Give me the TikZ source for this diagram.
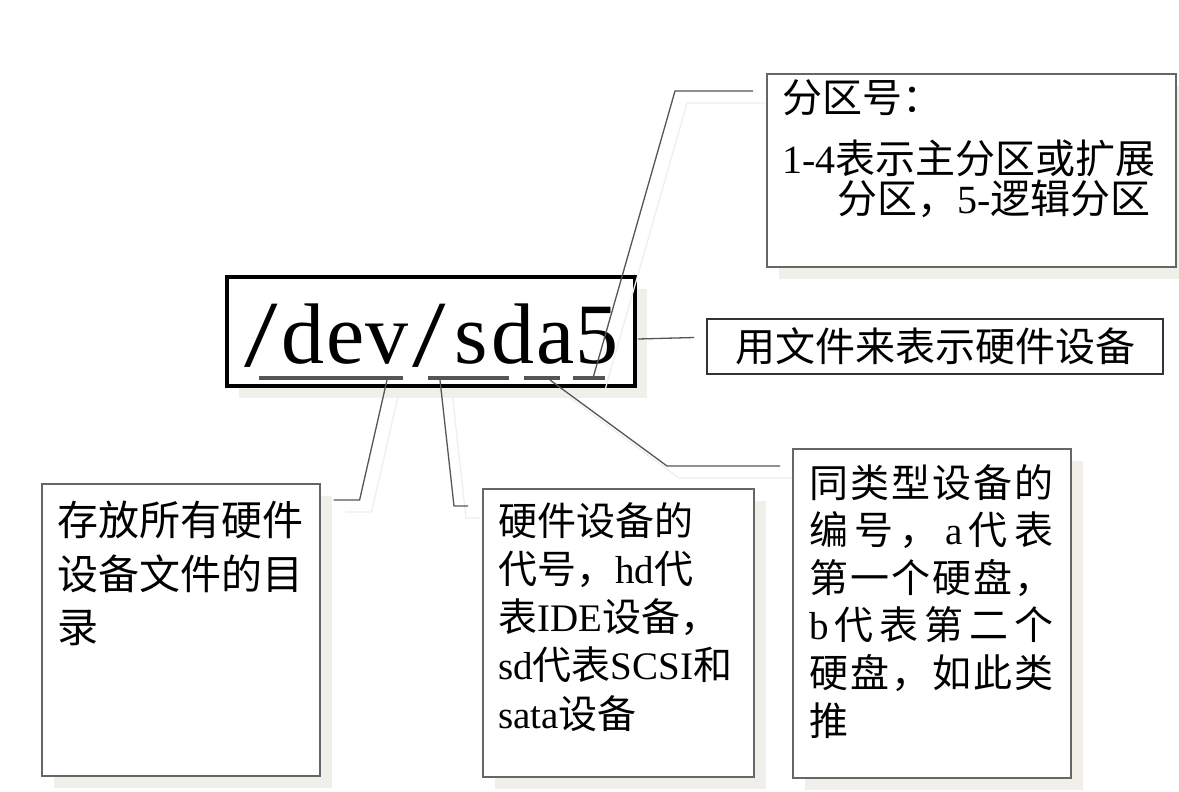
\documentclass[tikz,border=0pt]{standalone}
\usepackage{fontspec}
\setmainfont{Liberation Serif}
\newfontfamily\cjkfont{Noto Sans CJK SC}
\usepackage{graphicx}
\usepackage{tikz}
\usetikzlibrary{calc,positioning,shadows}
\usepackage{xcolor}
\definecolor{SketchInk}{HTML}{000000}
\definecolor{SketchLine}{HTML}{555555}
\definecolor{SketchFrame}{HTML}{666666}
\definecolor{SketchFrameDark}{HTML}{333333}
\definecolor{SketchShadow}{HTML}{F0EFEA}
\newcommand{\lat}[1]{{\rmfamily #1}}
\newcommand{\cjksize}[2]{\cjkfont\fontsize{#1}{#2}\selectfont}
\newcommand{\monocell}[1]{\makebox[42pt]{#1}}
\newcommand{\monoslash}{\makebox[42pt]{\raisebox{-3pt}{\scalebox{1.4}[1.1]{/}}}}
\tikzset{
  flatshadow/.style={drop shadow={shadow xshift=12pt,shadow yshift=-12pt,fill=SketchShadow,opacity=1}},
  leader/.style={line width=1.3pt,draw=SketchLine},
  leadershadow/.style={line width=1.3pt,draw=SketchShadow,transform canvas={xshift=12pt,yshift=-12pt}},
  underbar/.style={line width=4pt,draw=SketchLine},
  devbox/.style={draw=SketchInk,line width=4pt,fill=white,minimum width=408pt,minimum height=109pt,inner sep=0pt,flatshadow},
  devtext/.style={anchor=base west,inner sep=0pt,font=\fontsize{86}{86}\selectfont},
  callbox/.style={draw=SketchFrame,line width=1.6pt,fill=white,anchor=north west,inner sep=0pt,flatshadow},
  filebox/.style={draw=SketchFrameDark,line width=1.6pt,fill=white,inner sep=0pt,minimum width=456pt,minimum height=55pt,font=\cjksize{40}{40}},
  calltext/.style={anchor=base west,align=left,inner sep=0pt}
}

\begin{document}
\begin{tikzpicture}[x=1pt,y=-1pt]
  \path[use as bounding box,fill=white] (0,0) rectangle (1179,792);

  \node[devbox] (devbox) at (431,331.5) {};
  \node[devtext] (devname) at (240,363)
    {\monoslash\monocell{d}\monocell{e}\monocell{v}\monoslash\monocell{s}\monocell{d}\monocell{a}\monocell{5}};
  \node[callbox,minimum width=278pt,minimum height=292pt] (dirbox) at (41,483) {};
  \node[callbox,minimum width=271pt,minimum height=288pt] (codebox) at (482,488) {};
  \node[callbox,minimum width=278pt,minimum height=329pt] (numbox) at (792,448) {};
  \node[callbox,minimum width=409pt,minimum height=193pt] (partbox) at (766,73) {};
  \node[filebox] (filebox) at (935,346.5) {用文件来表示硬件设备};

  \node[calltext,font=\cjksize{41}{53.5}] (dirtext) at ($(dirbox.north west)+(16,159.6)$)
    {存放所有硬件\\设备文件的目\\录};
  \node[calltext,font=\cjksize{39}{48.3}] (codetext) at ($(codebox.north west)+(16,240.2)$)
    {硬件设备的\\代号，\lat{hd}代\\表\lat{IDE}设备，\\\lat{sd}代表\lat{SCSI}和\\\lat{sata}设备};
  \node[calltext,font=\cjksize{39}{47.6}] (numtext) at ($(numbox.north west)+(17,287)$)
    {\makebox[244pt][s]{同\hfill 类\hfill 型\hfill 设\hfill 备\hfill 的}\\
     \makebox[244pt][s]{编\hfill 号\hfill ，\hfill \lat{a}\hfill 代\hfill 表}\\
     \makebox[244pt][s]{第\hfill 一\hfill 个\hfill 硬\hfill 盘\hfill ，}\\
     \makebox[244pt][s]{\lat{b}\hfill 代\hfill 表\hfill 第\hfill 二\hfill 个}\\
     \makebox[244pt][s]{硬\hfill 盘\hfill ，\hfill 如\hfill 此\hfill 类}\\
     推};
  \node[calltext,font=\cjksize{40}{40}] (parttext) at ($(partbox.north west)+(16,140)$)
    {分区号：\\[21pt]\lat{1-4}表示主分区或扩展\\\hspace*{55pt}分区，\lat{5-}逻辑分区};

  \draw[underbar] (259,378) -- (403,378);
  \draw[underbar] (428,378) -- (509,378);
  \draw[underbar] (524,378) -- (560,378);
  \draw[underbar] (573,378) -- (605,378);

  \coordinate (devfoot) at (387,380);
  \coordinate (sdfoot) at (440,380);
  \coordinate (afoot) at (550,380);
  \coordinate (numfoot) at (593,378);
  \coordinate (devside) at ($(devbox.east)+(1,7.5)$);
  \coordinate (dirtip) at ($(dirbox.north east)+(13,17)$);
  \coordinate (dirbend) at ($(dirtip)+(26,0)$);
  \coordinate (codetip) at ($(codebox.north west)+(-14,18)$);
  \coordinate (codebend) at ($(codetip)+(-14,0)$);
  \coordinate (numtip) at ($(numbox.north west)+(-12,18)$);
  \coordinate (numbend) at ($(numtip)+(-113,0)$);
  \coordinate (parttip) at ($(partbox.north west)+(-13,18)$);
  \coordinate (partbend) at ($(parttip)+(-78,0)$);
  \coordinate (filetip) at ($(filebox.west)+(-12,-9)$);

  \draw[leadershadow] (devfoot) -- (dirbend) -- (dirtip);
  \draw[leadershadow] (sdfoot) -- (codebend) -- (codetip);
  \draw[leadershadow] (afoot) -- (numbend) -- (numtip);
  \draw[leadershadow] (numfoot) -- (partbend) -- (parttip);

  \draw[leader] (devfoot) -- (dirbend) -- (dirtip);
  \draw[leader] (sdfoot) -- (codebend) -- (codetip);
  \draw[leader] (afoot) -- (numbend) -- (numtip);
  \draw[leader] (numfoot) -- (partbend) -- (parttip);
  \draw[leader] (devside) -- (filetip);
\end{tikzpicture}
\end{document}
